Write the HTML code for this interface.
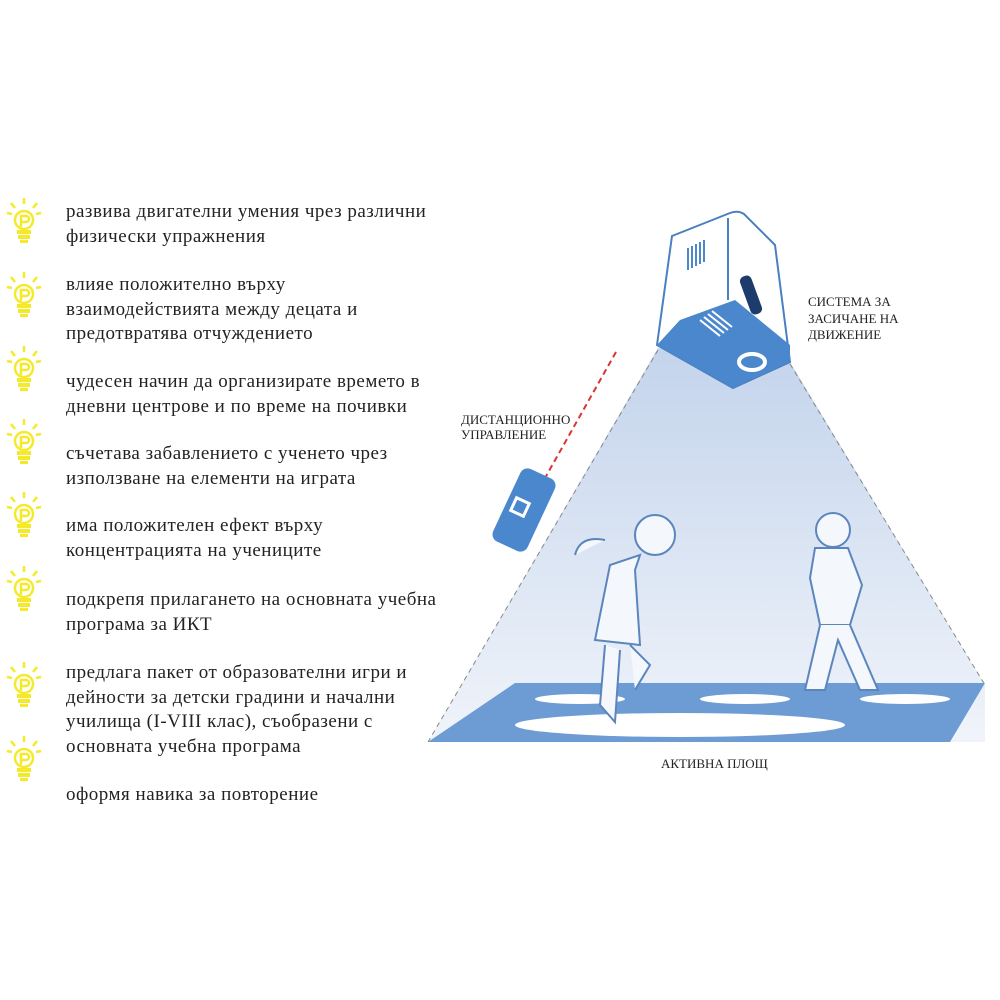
<!DOCTYPE html>
<html><head><meta charset="utf-8"><style>
html,body{margin:0;padding:0;background:#fff;width:1000px;height:1000px;overflow:hidden}
.t{position:absolute;left:66px;font-family:"Liberation Serif",serif;font-size:19px;letter-spacing:0.5px;color:#222;line-height:24.5px;white-space:nowrap}
.lbl{font-family:"Liberation Serif",serif;font-size:13px;fill:#222}
</style></head><body>
<svg width="1000" height="1000" style="position:absolute;left:0;top:0">
<defs>
<g id="bulb">
<g stroke="#f5ea2a" stroke-width="2.5" fill="none">
<line x1="0" y1="-24" x2="0" y2="-18"/><line x1="-13" y1="-19" x2="-9" y2="-14"/><line x1="13" y1="-19" x2="9" y2="-14"/>
<line x1="-17" y1="-9" x2="-12" y2="-8"/><line x1="17" y1="-9" x2="12" y2="-8"/>
<circle cx="0" cy="-2" r="9"/><path d="M-3 5 V-6 H2 A3 3 0 0 1 2 0 H-3"/>
</g>
<rect x="-7" y="8" width="14" height="4" fill="#f5ea2a"/><rect x="-6" y="13" width="12" height="4" fill="#f5ea2a"/><rect x="-4" y="18" width="8" height="3" fill="#f5ea2a"/>
</g>
<linearGradient id="lg" x1="0" y1="0" x2="0" y2="1"><stop offset="0" stop-color="#c4d4ec"/><stop offset="1" stop-color="#f0f4fa"/></linearGradient>
</defs>
<use href="#bulb" x="24" y="222"/><use href="#bulb" x="24" y="296"/><use href="#bulb" x="24" y="370"/><use href="#bulb" x="24" y="443"/>
<use href="#bulb" x="24" y="516"/><use href="#bulb" x="24" y="590"/><use href="#bulb" x="24" y="686"/><use href="#bulb" x="24" y="760"/>

<polygon points="658,348 790,362 985,685 985,742 428,742" fill="url(#lg)"/>
<line x1="658" y1="350" x2="428" y2="742" stroke="#888" stroke-dasharray="5,4"/>
<line x1="790" y1="364" x2="985" y2="685" stroke="#888" stroke-dasharray="5,4"/>
<polygon points="515,683 985,683 950,742 428,742" fill="#6d9bd4"/>
<ellipse cx="680" cy="725" rx="165" ry="12" fill="#fff"/>
<ellipse cx="580" cy="699" rx="45" ry="5" fill="#fff"/>
<ellipse cx="745" cy="699" rx="45" ry="5" fill="#fff"/>
<ellipse cx="905" cy="699" rx="45" ry="5" fill="#fff"/>

<path d="M672 236 L730 213 Q738 210 744 214 L775 245 L790 362 L733 388 L657 345 Z" fill="#fff" stroke="#4a7fc0" stroke-width="2"/>
<path d="M680 320 L735 300 L790 345 L790 362 L733 388 L657 345 Z" fill="#4a87cc"/>
<ellipse cx="752" cy="362" rx="13" ry="8" fill="none" stroke="#fff" stroke-width="4"/>
<g stroke="#4a87cc" stroke-width="2"><line x1="688" y1="248" x2="688" y2="270"/><line x1="692" y1="246" x2="692" y2="268"/><line x1="696" y1="244" x2="696" y2="266"/><line x1="700" y1="242" x2="700" y2="264"/><line x1="704" y1="240" x2="704" y2="262"/></g>
<g stroke="#fff" stroke-width="2"><line x1="700" y1="320" x2="720" y2="336"/><line x1="704" y1="317" x2="724" y2="333"/><line x1="708" y1="314" x2="728" y2="330"/><line x1="712" y1="311" x2="732" y2="327"/></g>
<line x1="728" y1="218" x2="728" y2="300" stroke="#4a7fc0" stroke-width="2"/>
<rect x="745" y="275" width="12" height="40" rx="5" fill="#1d3b6b" transform="rotate(-20 751 295)"/>

<line x1="616" y1="352" x2="545" y2="478" stroke="#d33" stroke-width="2" stroke-dasharray="6,4"/>
<rect x="505" y="470" width="38" height="80" rx="8" fill="#4a87cc" transform="rotate(25 524 510)"/>
<rect x="513" y="500" width="14" height="14" fill="none" stroke="#fff" stroke-width="3" transform="rotate(25 520 507)"/>

<g fill="#f4f7fc" stroke="#5b86bd" stroke-width="2">
<circle cx="655" cy="535" r="20"/>
<path d="M640 555 L610 565 L595 640 L640 645 L635 570 Z"/>
<path d="M605 645 L600 705 L615 722 L620 650 M630 645 L650 665 L635 690"/>
<path d="M605 540 Q580 535 575 555"/>
<circle cx="833" cy="530" r="17"/>
<path d="M815 548 L848 548 L862 585 L850 625 L820 625 L810 578 Z"/>
<path d="M820 625 L805 690 L825 690 L838 640 L860 690 L878 690 L850 625"/>
</g>

<text class="lbl" x="808" y="306">СИСТЕМА ЗА</text>
<text class="lbl" x="808" y="323">ЗАСИЧАНЕ НА</text>
<text class="lbl" x="808" y="339">ДВИЖЕНИЕ</text>
<text class="lbl" x="461" y="424">ДИСТАНЦИОННО</text>
<text class="lbl" x="461" y="439">УПРАВЛЕНИЕ</text>
<text class="lbl" x="661" y="768">АКТИВНА ПЛОЩ</text>
</svg>
<div class="t" style="top:200px">развива двигателни умения чрез различни<br>физически упражнения</div>
<div class="t" style="top:273px">влияе положително върху<br>взаимодействията между децата и<br>предотвратява отчуждението</div>
<div class="t" style="top:370px">чудесен начин да организирате времето в<br>дневни центрове и по време на почивки</div>
<div class="t" style="top:442px">съчетава забавлението с ученето чрез<br>използване на елементи на играта</div>
<div class="t" style="top:514px">има положителен ефект върху<br>концентрацията на учениците</div>
<div class="t" style="top:588px">подкрепя прилагането на основната учебна<br>програма за ИКТ</div>
<div class="t" style="top:661px">предлага пакет от образователни игри и<br>дейности за детски градини и начални<br>училища (I-VIII клас), съобразени с<br>основната учебна програма</div>
<div class="t" style="top:783px">оформя навика за повторение</div>
</body></html>
